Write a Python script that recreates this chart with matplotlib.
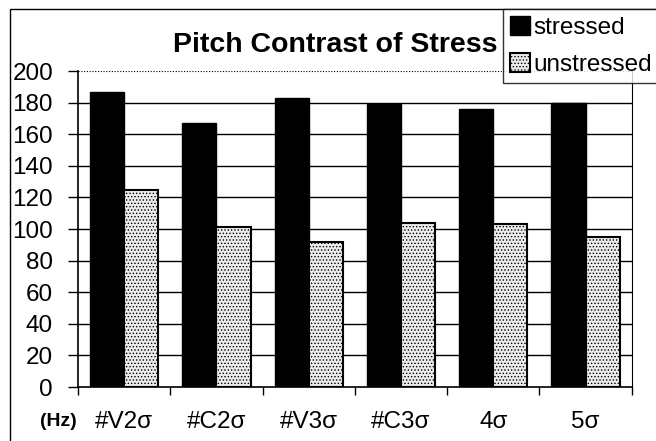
import matplotlib.pyplot as plt
import numpy as np
from matplotlib.patches import Rectangle

categories = ["#V2σ", "#C2σ", "#V3σ", "#C3σ", "4σ", "5σ"]
stressed = [187, 167, 183, 179, 176, 180]
unstressed = [125, 101, 92, 104, 103, 95]
yticks = [0, 20, 40, 60, 80, 100, 120, 140, 160, 180, 200]

plt.rcParams['font.family'] = ['Liberation Sans', 'DejaVu Sans']
plt.rcParams['hatch.color'] = '#7a7a7a'
plt.rcParams['hatch.linewidth'] = 0.6

fig = plt.figure(figsize=(6.56, 4.41), dpi=100)
ax = fig.add_axes([0.119, 0.1224, 0.844, 0.7166])

x = np.arange(len(categories))
w = 0.37
# grid first so bars sit on top
for v in yticks[1:-1]:
    ax.axhline(v, color='black', lw=1.0, zorder=1)
ax.axhline(200, color='black', lw=0.8, ls=(0, (1, 1.5)), zorder=1)

ax.bar(x - w / 2, stressed, w, color='black', edgecolor='black', lw=1, zorder=2, label='stressed')
ax.bar(x + w / 2, unstressed, w, color='#ececec', edgecolor='black', lw=1.5,
       hatch='.....', zorder=2, label='unstressed')

ax.set_xlim(-0.5, len(categories) - 0.5)
ax.set_ylim(0, 200)
ax.set_yticks(yticks)
ax.set_yticklabels([str(v) for v in yticks], fontsize=17.5)
ax.tick_params(axis='y', direction='out', length=7, width=1, pad=11)
ax.set_xticks(np.arange(len(categories) + 1) - 0.5, minor=True)
ax.set_xticks(x)
ax.set_xticklabels(categories, fontsize=17.5)
ax.tick_params(axis='x', which='major', length=0, pad=17)
ax.tick_params(axis='x', which='minor', direction='out', length=6, width=1)

ax.spines['top'].set_visible(False)
ax.spines['right'].set_linestyle((0, (1, 1)))
ax.spines['right'].set_linewidth(0.8)
ax.spines['left'].set_linewidth(1.2)
ax.spines['bottom'].set_linewidth(1.2)

fig.text(0.089, 0.045, "(Hz)", fontsize=14, fontweight='bold', ha='center', va='center')
fig.text(0.511, 0.897, "Pitch Contrast of Stress", fontsize=20.5, fontweight='bold',
         ha='center', va='center')

# outer frame of the figure
fig.patches.append(Rectangle((0.015, -0.1), 1.2, 1.08, transform=fig.transFigure,
                             fill=False, ec='black', lw=1.0))

leg = fig.legend(loc='upper left', bbox_to_anchor=(0.767, 0.98), fontsize=17.5,
                 frameon=True, fancybox=False, edgecolor='black', handlelength=0.8,
                 handleheight=0.8, handletextpad=0.15, borderpad=0.3, labelspacing=0.6,
                 borderaxespad=0)
leg.get_frame().set_linewidth(1.0)

fig.savefig("out.png", dpi=100)
